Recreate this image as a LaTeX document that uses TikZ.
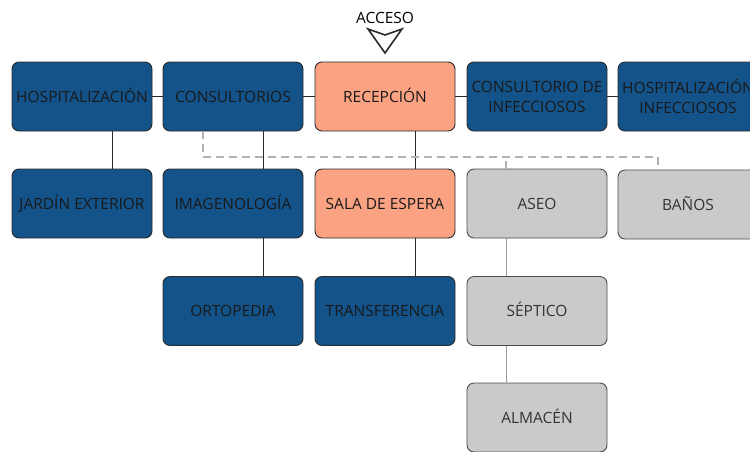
\documentclass[tikz,border=0pt]{standalone}
\usepackage{fontspec}
\setmainfont{Open Sans}
\usepackage{tikz}
\usetikzlibrary{positioning, calc}
\definecolor{aBlue}{HTML}{13538A}
\definecolor{aSalmon}{HTML}{FBA283}
\definecolor{aGrey}{HTML}{C9CACC}
\definecolor{aEdge}{HTML}{2A2A2A}

\begin{document}
\begin{tikzpicture}[
  x=1pt, y=-1pt,
  every node/.style={font=\fontsize{15.5}{20}\selectfont},
  area/.style={draw=aEdge, rounded corners=7pt, line width=0.9pt,
               minimum width=140pt, minimum height=69pt, align=center,
               inner sep=1pt},
  oneline/.style={text height=13pt, text depth=2pt},
  blue/.style={area, fill=aBlue, text=black!90},
  salmon/.style={area, fill=aSalmon, text=black!90},
  grey/.style={area, fill=aGrey, text=black!80, draw=black!70},
  link/.style={draw=aEdge, line width=1pt},
  softlink/.style={draw=black!40, line width=0.8pt},
  service/.style={draw=black!30, line width=1.2pt, dash pattern=on 8pt off 5pt},
]
\clip (0,0) rectangle (750,451);

% Row 1
\node[blue, oneline]   (hosp)    at (82, 96.5)  {HOSPITALIZACIÓN};
\node[blue, oneline]   (cons)    at (233, 96.5) {CONSULTORIOS};
\node[salmon, oneline] (recep)   at (385, 96.5) {RECEPCIÓN};
\node[blue]   (consinf) at (537, 96.5) {CONSULTORIO DE\\INFECCIOSOS};
\node[blue]   (hospinf) at (688, 96.5) {HOSPITALIZACIÓN\\INFECCIOSOS};

% Row 2
\node[blue, oneline]   (jardin)  at (82, 203.5)  {JARDÍN EXTERIOR};
\node[blue, oneline]   (imagen)  at (233, 203.5) {IMAGENOLOGÍA};
\node[salmon, oneline] (sala)    at (385, 203.5) {SALA DE ESPERA};
\node[grey, oneline]   (aseo)    at (537, 203.5) {ASEO};
\node[grey, oneline]   (banos)   at (688, 204.5) {BAÑOS};

% Row 3 and 4
\node[blue, oneline]   (orto)    at (233, 311) {ORTOPEDIA};
\node[blue, oneline]   (transf)  at (385, 311) {TRANSFERENCIA};
\node[grey, oneline]   (septico) at (537, 311) {SÉPTICO};
\node[grey, oneline]   (almacen) at (537, 417.5) {ALMACÉN};

% access mark
\node (acceso) at (385, 18) {ACCESO};
\coordinate (tip) at (385, 53);
\draw[aEdge, line width=1.6pt, line join=miter]
  (368, 29) -- (tip) -- (402, 29) -- (385, 35) -- cycle;

% horizontal links
\draw[link] (hosp) -- (cons);
\draw[link] (cons) -- (recep);
\draw[link] (recep) -- (consinf);
\draw[link] (consinf) -- (hospinf);

% vertical links
\draw[link] ([xshift=30pt]hosp.south) -- ([xshift=30pt]jardin.north);
\draw[link] ([xshift=30pt]cons.south) -- ([xshift=30pt]imagen.north);
\draw[link] ([xshift=30pt]imagen.south) -- ([xshift=30pt]orto.north);
\draw[link] ([xshift=30pt]recep.south) -- ([xshift=30pt]sala.north);
\draw[link] ([xshift=30pt]sala.south) -- ([xshift=30pt]transf.north);
\draw[softlink] ([xshift=-31pt]aseo.south) -- ([xshift=-31pt]septico.north);
\draw[softlink] ([xshift=-31pt]septico.south) -- ([xshift=-31pt]almacen.north);

% service corridor
\coordinate (bus) at (0, 157);
\coordinate (consdrop) at ([xshift=-30pt]cons.south);
\coordinate (banosdrop) at ([xshift=-30pt]banos.north);
\coordinate (aseodrop) at ([xshift=-31pt]aseo.north);
\draw[service] (consdrop) |- (bus -| banosdrop) -- (banosdrop);
\draw[service] (aseodrop) -- (bus -| aseodrop);
\end{tikzpicture}
\end{document}
